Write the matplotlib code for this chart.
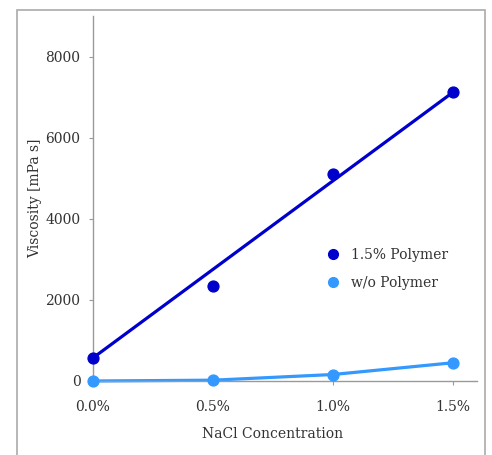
import numpy as np
import matplotlib
matplotlib.use("Agg")
import matplotlib.pyplot as plt
from matplotlib.patches import Rectangle

# NaCl concentration (%) and viscosity (mPa s)
nacl = np.array([0.0, 0.5, 1.0, 1.5])
visc_polymer = np.array([570, 2340, 5100, 7120])
visc_no_polymer = np.array([0, 20, 160, 450])
x_ticks = [0.0, 0.5, 1.0, 1.5]
x_tick_labels = ["0.0%", "0.5%", "1.0%", "1.5%"]
y_ticks = [0, 2000, 4000, 6000, 8000]

dark = "#0000CC"
light = "#3399FF"
grey = "#9a9a9a"
text_c = "#333333"

plt.rcParams["font.family"] = ["DejaVu Serif"]

fig = plt.figure(figsize=(4.92, 4.55), dpi=100)
W, H = 492, 455
ax = fig.add_axes([93 / W, 1 - 381 / H, (477 - 93) / W, (381 - 16) / H])

# outer chart border (cropped at the bottom)
fig.patches.append(Rectangle((17 / W, -0.05), (485 - 17) / W, 1 - 10 / H + 0.05,
                             transform=fig.transFigure, fill=False,
                             edgecolor="#aaaaaa", lw=1.2))

# trend line for polymer series, drawn between first and last points
ax.plot(nacl[[0, -1]], visc_polymer[[0, -1]], color=dark, lw=2.3,
        solid_capstyle="butt", clip_on=False, zorder=2)
ax.plot(nacl, visc_polymer, "o", color=dark, ms=7.8, clip_on=False,
        zorder=3, label="1.5% Polymer")
ax.plot(nacl, visc_no_polymer, "-", color=light, lw=2.3, clip_on=False, zorder=2)
ax.plot(nacl, visc_no_polymer, "o", color=light, ms=7.8, clip_on=False,
        zorder=3, label="w/o Polymer")

ax.set_xlim(0, 1.6)
ax.set_ylim(0, 9000)
ax.set_xticks(x_ticks)
ax.set_xticklabels(x_tick_labels)
ax.set_yticks(y_ticks)

for s in ["top", "right"]:
    ax.spines[s].set_visible(False)
for s in ["left", "bottom"]:
    ax.spines[s].set_color(grey)
    ax.spines[s].set_linewidth(1.0)

ax.tick_params(axis="y", length=3, color=grey, labelsize=10,
               labelcolor=text_c, pad=6)
ax.tick_params(axis="x", length=3, color=grey, labelsize=10,
               labelcolor=text_c, pad=11)

ax.set_xlabel("NaCl Concentration", fontsize=10, color=text_c, labelpad=9,
              x=0.75 / 1.6)
ax.set_ylabel("Viscosity [mPa s]", fontsize=10, color=text_c, labelpad=2)

ax.legend(loc="upper left", bbox_to_anchor=(0.557, 0.40), frameon=False,
          fontsize=10, labelcolor=text_c, handletextpad=0.3,
          labelspacing=1.05, markerscale=0.9)

fig.savefig("out.png", dpi=100)
